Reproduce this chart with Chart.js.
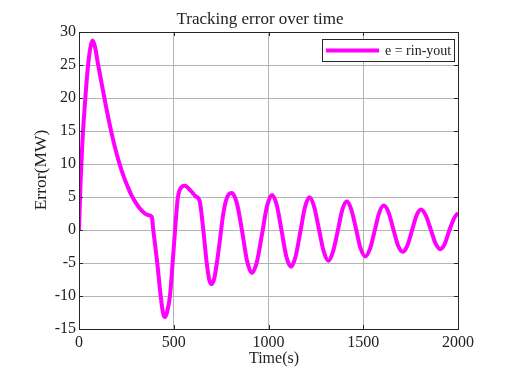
<!DOCTYPE html>
<html>
<head>
<meta charset="utf-8">
<script src="https://cdn.jsdelivr.net/npm/chart.js@4.4.1/dist/chart.umd.min.js"></script>
<style>
  body { margin: 0; background: #fff; }
  #wrap { width: 508px; height: 377px; }
</style>
</head>
<body>
<div id="wrap"><canvas id="data" width="508" height="377"></canvas></div>
<script>
// time (s) and tracking error (MW)
const times = [0, 8, 16, 25, 36, 48, 60, 71, 84, 100, 118, 136, 153, 171, 190, 210, 237, 258, 278, 300,
  320, 340, 360, 384, 392, 413, 431, 443, 454, 466, 480, 494, 507, 521, 532, 545, 559, 578, 597, 616, 636,
  656, 674, 688, 700, 714, 730, 745, 760, 775, 790, 806, 822, 837, 862, 887, 912, 939, 966, 992, 1019, 1044, 1069,
  1094, 1119, 1143, 1168, 1192, 1216, 1241, 1266, 1291, 1316, 1340, 1365, 1389, 1413, 1437, 1462, 1486, 1511,
  1535, 1560, 1584, 1608, 1633, 1658, 1683, 1708, 1732, 1757, 1781, 1805, 1830, 1856, 1881, 1906, 1930, 1955,
  1980, 2000];
const errors = [0, 7, 12.2, 16.6, 21, 25, 27.6, 28.7, 27.8, 25.2, 22.4, 19.7, 17.2, 14.8, 12.5, 10.4, 8.0, 6.5, 5.2, 4.1,
  3.3, 2.7, 2.3, 2.0, 0, -5, -10, -12.5, -13.2, -12.3, -10, -5, 0, 4.8, 6.1, 6.6, 6.7, 6.3, 5.7, 5.1, 4.45,
  0, -5, -7.6, -8.2, -7.3, -4.5, -1.2, 2.2, 4.4, 5.4, 5.6, 5.0, 3.6, -0.4, -4.7, -6.5, -4.8, -0.6, 3.6, 5.3, 3.7, -0.1,
  -4.0, -5.55, -4.0, -0.3, 3.4, 4.95, 3.5, 0.15, -3.2, -4.65, -3.3, -0.2, 3.0, 4.3, 3.1, 0.15, -2.8, -4.0,
  -2.9, -0.15, 2.6, 3.7, 2.7, 0.2, -2.3, -3.3, -2.4, -0.1, 2.2, 3.1, 2.2, 0.1, -2.0, -2.9, -2.1, 0,
  1.8, 2.6];

const xTicks = [0, 500, 1000, 1500, 2000];
const yTicks = [-15, -10, -5, 0, 5, 10, 15, 20, 25, 30];

const seriesLabel = 'e = rin-yout';
const titleText = 'Tracking error over time';
const xLabel = 'Time(s)';
const yLabel = 'Error(MW)';

const lineColor = '#ff00ff';
const textColor = '#222';
const serif = '"Liberation Serif", "Times New Roman", serif';

// MATLAB-ish frame, inner ticks, labels and legend
const decorations = {
  id: 'decorations',
  afterDraw(chart) {
    const ctx = chart.ctx;
    const a = chart.chartArea;
    const xs = chart.scales.x, ys = chart.scales.y;
    ctx.save();

    ctx.strokeStyle = '#262626';
    ctx.lineWidth = 1;
    ctx.strokeRect(Math.round(a.left) + 0.5, Math.round(a.top) + 0.5,
      Math.round(a.right - a.left), Math.round(a.bottom - a.top));

    // inward tick marks
    ctx.beginPath();
    xTicks.forEach(v => {
      const px = Math.round(xs.getPixelForValue(v)) + 0.5;
      ctx.moveTo(px, a.bottom); ctx.lineTo(px, a.bottom - 4);
      ctx.moveTo(px, a.top); ctx.lineTo(px, a.top + 4);
    });
    yTicks.forEach(v => {
      const py = Math.round(ys.getPixelForValue(v)) + 0.5;
      ctx.moveTo(a.left, py); ctx.lineTo(a.left + 4, py);
      ctx.moveTo(a.right, py); ctx.lineTo(a.right - 4, py);
    });
    ctx.stroke();

    ctx.fillStyle = textColor;
    ctx.textAlign = 'center';
    ctx.textBaseline = 'alphabetic';
    ctx.font = '17px ' + serif;
    ctx.fillText(titleText, 260, 24);
    ctx.font = '16px ' + serif;
    ctx.fillText(xLabel, 274, 363);

    ctx.save();
    ctx.translate(46, 170);
    ctx.rotate(-Math.PI / 2);
    ctx.font = '17.5px ' + serif;
    ctx.fillText(yLabel, 0, 0);
    ctx.restore();

    // legend
    const lx = 322, ly = 39, lw = 132, lh = 22;
    ctx.fillStyle = '#fff';
    ctx.fillRect(lx, ly, lw, lh);
    ctx.strokeStyle = '#262626';
    ctx.lineWidth = 1;
    ctx.strokeRect(lx + 0.5, ly + 0.5, lw, lh);
    ctx.strokeStyle = lineColor;
    ctx.lineWidth = 4;
    ctx.beginPath();
    ctx.moveTo(326, 50.5); ctx.lineTo(379, 50.5);
    ctx.stroke();
    ctx.fillStyle = textColor;
    ctx.textAlign = 'left';
    ctx.font = '14px ' + serif;
    ctx.fillText(seriesLabel, 385, 55);

    ctx.restore();
  }
};

new Chart(document.getElementById('data'), {
  type: 'line',
  data: {
    datasets: [{
      label: seriesLabel,
      data: times.map((t, i) => ({ x: t, y: errors[i] })),
      borderColor: lineColor,
      borderWidth: 4,
      pointRadius: 0,
      cubicInterpolationMode: 'monotone',
      fill: false
    }]
  },
  options: {
    responsive: false,
    animation: false,
    devicePixelRatio: 1,
    layout: { padding: { left: 0, right: 50, top: 32, bottom: 0 } },
    plugins: {
      legend: { display: false },
      title: { display: false },
      tooltip: { enabled: false }
    },
    scales: {
      x: {
        type: 'linear',
        min: 0,
        max: 2000,
        afterBuildTicks: (s) => { s.ticks = xTicks.map(v => ({ value: v })); },
        afterFit: (s) => { s.height = 48; },
        grid: { color: '#b4b4b4', drawTicks: false },
        border: { display: false },
        ticks: { color: textColor, font: { family: serif, size: 16 }, padding: 4, maxRotation: 0,
          callback: (v) => String(v) }
      },
      y: {
        type: 'linear',
        min: -15,
        max: 30,
        afterBuildTicks: (s) => { s.ticks = yTicks.map(v => ({ value: v })); },
        afterFit: (s) => { s.width = 79; },
        grid: { color: '#b4b4b4', drawTicks: false },
        border: { display: false },
        ticks: { color: textColor, font: { family: serif, size: 16 }, padding: 3,
          callback: (v) => String(v) }
      }
    }
  },
  plugins: [decorations]
});
</script>
</body>
</html>
